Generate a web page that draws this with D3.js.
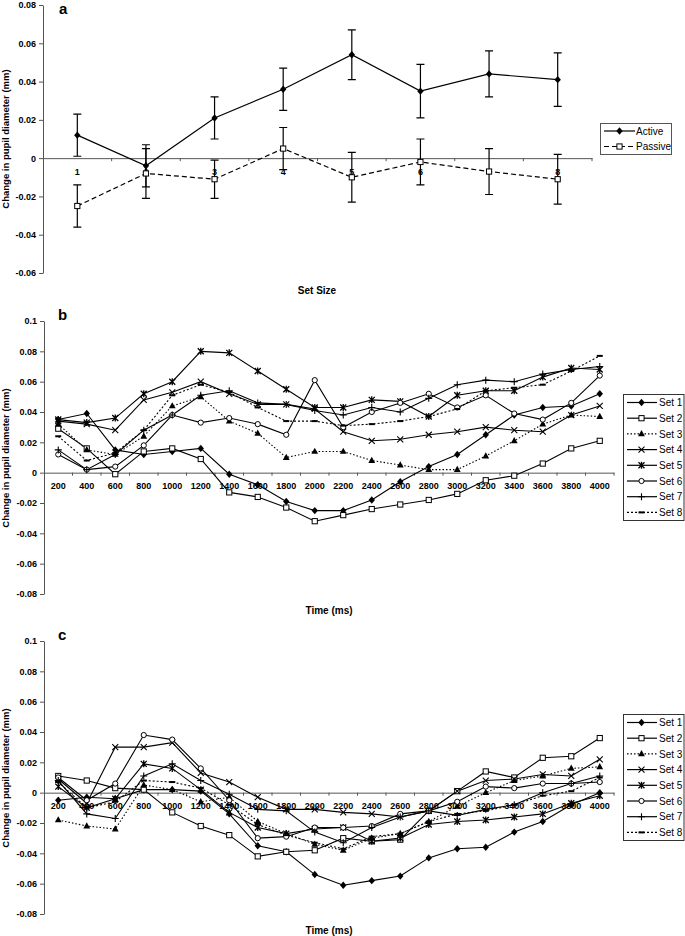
<!DOCTYPE html>
<html>
<head>
<meta charset="utf-8">
<script src="https://cdn.jsdelivr.net/npm/d3@7"></script>
<style>
  html, body { margin: 0; padding: 0; background: #fff; }
  svg { display: block; }
  text { font-family: "Liberation Sans", Arial, sans-serif; fill: #000; }
</style>
</head>
<body>
<svg id="chart" width="685" height="936"></svg>
<script>
// ---------- Panel a data ----------
const setSizes = ["1", "2", "3", "4", "5", "6", "7", "8"];
const activeMean = [0.012, -0.004, 0.021, 0.036, 0.054, 0.035, 0.044, 0.041];
const activeErr  = [0.011, 0.011, 0.011, 0.011, 0.013, 0.014, 0.012, 0.014];
const passiveMean = [-0.025, -0.008, -0.011, 0.005, -0.010, -0.002, -0.007, -0.011];
const passiveErr  = [0.011, 0.013, 0.010, 0.011, 0.013, 0.012, 0.012, 0.013];
const yTicksA = [0.08, 0.06, 0.04, 0.02, 0, -0.02, -0.04, -0.06];

// ---------- Panels b, c data ----------
const times = ["200","400","600","800","1000","1200","1400","1600","1800","2000",
               "2200","2400","2600","2800","3000","3200","3400","3600","3800","4000"];
const yTicksBC = [0.1, 0.08, 0.06, 0.04, 0.02, 0, -0.02, -0.04, -0.06, -0.08];
const setNames = ["Set 1","Set 2","Set 3","Set 4","Set 5","Set 6","Set 7","Set 8"];

const bSet1 = [0.035, 0.039, 0.015, 0.012, 0.014, 0.016, -0.001, -0.008, -0.019, -0.025, -0.025, -0.018, -0.006, 0.004, 0.012, 0.025, 0.038, 0.043, 0.044, 0.052];
const bSet2 = [0.029, 0.016, -0.001, 0.014, 0.016, 0.009, -0.013, -0.016, -0.023, -0.032, -0.028, -0.024, -0.021, -0.018, -0.014, -0.005, -0.002, 0.006, 0.016, 0.021];
const bSet3 = [0.032, 0.015, 0.012, 0.024, 0.044, 0.050, 0.034, 0.026, 0.010, 0.014, 0.014, 0.008, 0.005, 0.002, 0.002, 0.011, 0.021, 0.032, 0.038, 0.037];
const bSet4 = [0.034, 0.032, 0.028, 0.048, 0.053, 0.060, 0.052, 0.045, 0.045, 0.042, 0.027, 0.021, 0.022, 0.025, 0.027, 0.030, 0.028, 0.027, 0.038, 0.044];
const bSet5 = [0.035, 0.033, 0.036, 0.052, 0.060, 0.080, 0.079, 0.067, 0.055, 0.043, 0.043, 0.048, 0.047, 0.037, 0.051, 0.054, 0.054, 0.063, 0.069, 0.068];
const bSet6 = [0.012, 0.002, 0.004, 0.018, 0.038, 0.033, 0.036, 0.032, 0.025, 0.061, 0.030, 0.040, 0.046, 0.052, 0.043, 0.051, 0.039, 0.035, 0.046, 0.064];
const bSet7 = [0.015, 0.002, 0.012, 0.028, 0.038, 0.051, 0.054, 0.046, 0.045, 0.041, 0.038, 0.043, 0.040, 0.049, 0.058, 0.061, 0.060, 0.065, 0.068, 0.070];
const bSet8 = [0.024, 0.008, 0.013, 0.028, 0.051, 0.058, 0.053, 0.043, 0.034, 0.034, 0.031, 0.032, 0.034, 0.037, 0.042, 0.054, 0.056, 0.058, 0.067, 0.077];

const cSet1 = [-0.005, -0.003, -0.004, 0.002, 0.002, 0.001, -0.014, -0.035, -0.039, -0.054, -0.061, -0.058, -0.055, -0.043, -0.037, -0.036, -0.026, -0.019, -0.008, 0.000];
const cSet2 = [0.011, 0.008, 0.003, 0.002, -0.013, -0.022, -0.028, -0.042, -0.039, -0.038, -0.030, -0.032, -0.031, -0.012, 0.001, 0.014, 0.010, 0.023, 0.024, 0.036];
const cSet3 = [-0.018, -0.022, -0.024, 0.005, 0.002, -0.006, -0.003, -0.019, -0.027, -0.034, -0.038, -0.030, -0.027, -0.019, -0.009, 0.000, 0.008, 0.011, 0.016, 0.017];
const cSet4 = [0.009, -0.007, 0.030, 0.030, 0.033, 0.013, 0.007, -0.003, -0.011, -0.011, -0.013, -0.014, -0.016, -0.012, 0.001, 0.008, 0.009, 0.012, 0.011, 0.022];
const cSet5 = [0.004, -0.010, -0.004, 0.019, 0.016, 0.002, -0.013, -0.023, -0.027, -0.024, -0.023, -0.032, -0.030, -0.021, -0.019, -0.018, -0.016, -0.014, -0.007, -0.002];
const cSet6 = [0.010, -0.005, 0.006, 0.038, 0.035, 0.016, -0.005, -0.030, -0.029, -0.023, -0.023, -0.022, -0.014, -0.012, -0.006, 0.004, 0.003, 0.006, 0.006, 0.007];
const cSet7 = [0.008, -0.014, -0.017, 0.011, 0.019, 0.008, -0.001, -0.011, -0.012, -0.026, -0.033, -0.023, -0.016, -0.012, -0.015, -0.011, -0.008, 0.000, 0.006, 0.011];
const cSet8 = [0.007, -0.010, -0.006, 0.008, 0.007, 0.003, -0.008, -0.021, -0.028, -0.033, -0.037, -0.029, -0.027, -0.019, -0.014, -0.012, -0.008, -0.002, 0.001, 0.010];

const bSeries = [bSet1, bSet2, bSet3, bSet4, bSet5, bSet6, bSet7, bSet8];
const cSeries = [cSet1, cSet2, cSet3, cSet4, cSet5, cSet6, cSet7, cSet8];

// styling per set
const setMarkers = ["diamond", "square", "triangle", "x", "star", "circle", "plus", "dash"];
const setDash    = [null, null, "1.5,2", null, null, null, null, "2,2"];

// ---------- helpers ----------
const svg = d3.select("#chart");
const AXIS_COLOR = "#555";
const fmt = d => String(+d.toFixed(2));

function drawMarker(g, type, cx, cy) {
  const s = 3.2;
  switch (type) {
    case "diamond":
      g.append("path").attr("d", `M${cx},${cy - s - 0.5}L${cx + s},${cy}L${cx},${cy + s + 0.5}L${cx - s},${cy}Z`)
        .attr("fill", "#000"); break;
    case "square":
      g.append("rect").attr("x", cx - 2.6).attr("y", cy - 2.6).attr("width", 5.2).attr("height", 5.2)
        .attr("fill", "#fff").attr("stroke", "#000").attr("stroke-width", 1); break;
    case "triangle":
      g.append("path").attr("d", `M${cx},${cy - 3.8}L${cx + 3.4},${cy + 2.4}L${cx - 3.4},${cy + 2.4}Z`)
        .attr("fill", "#000"); break;
    case "x":
      g.append("path").attr("d", `M${cx - 3},${cy - 3}L${cx + 3},${cy + 3}M${cx - 3},${cy + 3}L${cx + 3},${cy - 3}`)
        .attr("stroke", "#000").attr("stroke-width", 1.1); break;
    case "star":
      g.append("path").attr("d", `M${cx - 3},${cy - 3}L${cx + 3},${cy + 3}M${cx - 3},${cy + 3}L${cx + 3},${cy - 3}M${cx},${cy - 3.5}L${cx},${cy + 3.5}`)
        .attr("stroke", "#000").attr("stroke-width", 1.3); break;
    case "circle":
      g.append("circle").attr("cx", cx).attr("cy", cy).attr("r", 2.6)
        .attr("fill", "#fff").attr("stroke", "#000").attr("stroke-width", 1); break;
    case "plus":
      g.append("path").attr("d", `M${cx - 3.5},${cy}L${cx + 3.5},${cy}M${cx},${cy - 3.5}L${cx},${cy + 3.5}`)
        .attr("stroke", "#000").attr("stroke-width", 1.1); break;
    case "dash":
      g.append("path").attr("d", `M${cx - 3},${cy}L${cx + 3},${cy}`)
        .attr("stroke", "#000").attr("stroke-width", 2); break;
  }
}

function yAxis(y, x0, ticks) {
  const g = svg.append("g").attr("transform", `translate(${x0},0)`)
    .call(d3.axisLeft(y).tickValues(ticks).tickFormat(fmt).tickSize(4).tickSizeOuter(0).tickPadding(3));
  g.select(".domain").attr("stroke", AXIS_COLOR);
  g.selectAll(".tick line").attr("stroke", AXIS_COLOR);
  g.selectAll(".tick text").attr("font-size", 9).attr("font-weight", "bold")
    .attr("font-family", "Liberation Sans, Arial, sans-serif").attr("fill", "#000");
}

function xAxis(x, y0) {
  const g = svg.append("g").attr("transform", `translate(0,${y0})`)
    .call(d3.axisBottom(x).tickSize(0).tickSizeOuter(0).tickPadding(10));
  g.select(".domain").attr("stroke", AXIS_COLOR);
  g.selectAll(".tick text").attr("font-size", 9).attr("font-weight", "bold")
    .attr("font-family", "Liberation Sans, Arial, sans-serif").attr("fill", "#000");
  // category boundary tick marks
  const dom = x.domain();
  const bounds = dom.map(d => x(d) + x.bandwidth()).concat([]);
  g.selectAll("line.bt").data(bounds).join("line").attr("class", "bt")
    .attr("x1", d => d).attr("x2", d => d).attr("y1", 0).attr("y2", 3)
    .attr("stroke", AXIS_COLOR);
}

function yTitle(cx, cy) {
  svg.append("text").attr("transform", `translate(${cx},${cy}) rotate(-90)`)
    .attr("text-anchor", "middle").attr("font-size", 9.5).attr("font-weight", "bold")
    .text("Change in pupil diameter (mm)");
}

function panelLabel(txt, x, y) {
  svg.append("text").attr("x", x).attr("y", y).attr("font-size", 15).attr("font-weight", "bold").text(txt);
}

// ---------- Panel a ----------
{
  const x = d3.scaleBand().domain(setSizes).range([43, 592]);
  const y = d3.scaleLinear().domain([-0.06, 0.08]).range([273, 5]);
  const cx = d => x(d) + x.bandwidth() / 2;

  yAxis(y, 43, yTicksA);
  xAxis(x, y(0));
  yTitle(9, 139);
  panelLabel("a", 59, 14);
  svg.append("text").attr("x", 317).attr("y", 294).attr("text-anchor", "middle")
    .attr("font-size", 10).attr("font-weight", "bold").text("Set Size");

  const g = svg.append("g");
  const series = [
    { mean: passiveMean, err: passiveErr, dash: "5,3", marker: "square" },
    { mean: activeMean, err: activeErr, dash: null, marker: "diamond" }
  ];
  series.forEach(s => {
    // error bars
    s.mean.forEach((m, i) => {
      const xc = cx(setSizes[i]);
      const y1 = y(m + s.err[i]), y2 = y(m - s.err[i]);
      g.append("path").attr("d", `M${xc},${y1}L${xc},${y2}M${xc - 4},${y1}L${xc + 4},${y1}M${xc - 4},${y2}L${xc + 4},${y2}`)
        .attr("stroke", "#000").attr("stroke-width", 1.2).attr("fill", "none");
    });
  });
  series.forEach(s => {
    const line = d3.line().x((d, i) => cx(setSizes[i])).y(d => y(d));
    g.append("path").datum(s.mean).attr("d", line).attr("fill", "none")
      .attr("stroke", "#000").attr("stroke-width", 1.2).attr("stroke-dasharray", s.dash);
    s.mean.forEach((m, i) => drawMarker(g, s.marker, cx(setSizes[i]), y(m)));
  });

  // legend
  const lg = svg.append("g");
  lg.append("rect").attr("x", 600.5).attr("y", 123.5).attr("width", 71).attr("height", 31)
    .attr("fill", "#fff").attr("stroke", AXIS_COLOR);
  [["Active", null, "diamond"], ["Passive", "5,3", "square"]].forEach((e, i) => {
    const yy = 131 + i * 15.5;
    lg.append("path").attr("d", `M604,${yy}L635,${yy}`).attr("stroke", "#000")
      .attr("stroke-width", 1.2).attr("stroke-dasharray", e[1]);
    drawMarker(lg, e[2], 619.5, yy);
    lg.append("text").attr("x", 636).attr("y", yy + 3.5).attr("font-size", 10).text(e[0]);
  });
}

// ---------- Panels b and c ----------
function linePanel(seriesList, top, label) {
  const x = d3.scaleBand().domain(times).range([44, 614]);
  const y = d3.scaleLinear().domain([-0.08, 0.1]).range([top + 273, top]);
  const cx = d => x(d) + x.bandwidth() / 2;

  yAxis(y, 44, yTicksBC);
  xAxis(x, y(0));
  yTitle(9, top + 137);
  panelLabel(label, 58, top - 1);
  svg.append("text").attr("x", 329).attr("y", top + 293).attr("text-anchor", "middle")
    .attr("font-size", 10).attr("font-weight", "bold").text("Time (ms)");

  const g = svg.append("g");
  const line = d3.line().x((d, i) => cx(times[i])).y(d => y(d));
  seriesList.forEach((s, k) => {
    g.append("path").datum(s).attr("d", line).attr("fill", "none")
      .attr("stroke", "#000").attr("stroke-width", 1.1).attr("stroke-dasharray", setDash[k]);
  });
  seriesList.forEach((s, k) => {
    s.forEach((v, i) => drawMarker(g, setMarkers[k], cx(times[i]), y(v)));
  });

  // legend
  const lg = svg.append("g");
  const ly = top + 73;
  lg.append("rect").attr("x", 623.5).attr("y", ly + 0.5).attr("width", 60.5).attr("height", 126)
    .attr("fill", "#fff").attr("stroke", "#333");
  setNames.forEach((n, k) => {
    const yy = ly + 8.5 + k * 15.7;
    lg.append("path").attr("d", `M627,${yy}L657,${yy}`).attr("stroke", "#000")
      .attr("stroke-width", 1.2).attr("stroke-dasharray", setDash[k]);
    drawMarker(lg, setMarkers[k], 641.5, yy);
    lg.append("text").attr("x", 659).attr("y", yy + 3.6).attr("font-size", 10).text(n);
  });
}

linePanel(bSeries, 321, "b");
linePanel(cSeries, 641, "c");
</script>
</body>
</html>
